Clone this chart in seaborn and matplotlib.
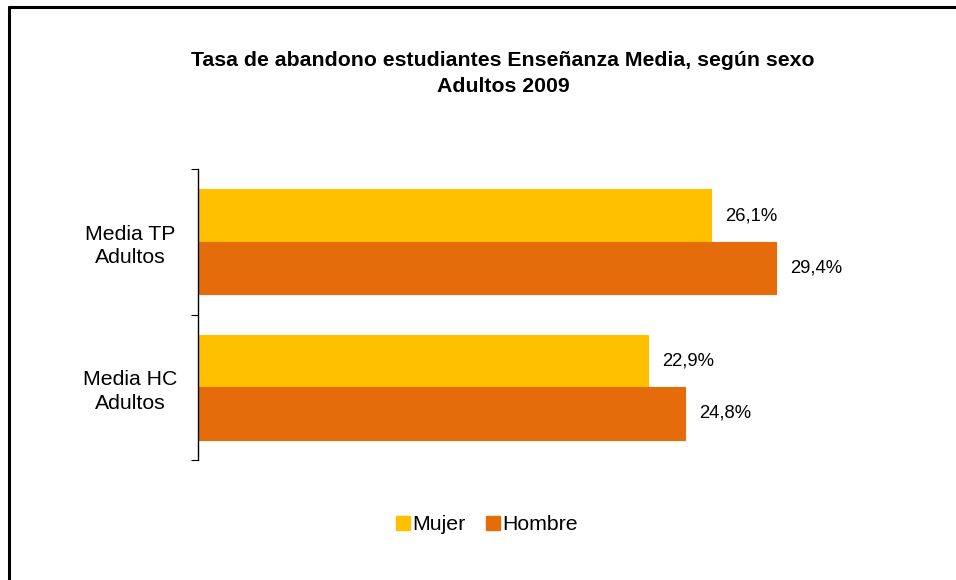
import matplotlib
matplotlib.use("Agg")
import matplotlib.pyplot as plt
from matplotlib.lines import Line2D
from matplotlib.patches import Patch
import seaborn as sns
import pandas as pd

categories = ["Media TP\nAdultos", "Media HC\nAdultos"]
series = ["Mujer", "Hombre"]
mujer = [26.1, 22.9]
hombre = [29.4, 24.8]
colors = {"Mujer": "#FFC000", "Hombre": "#E46C0A"}

df = pd.DataFrame({
    "categoria": categories * 2,
    "sexo": ["Mujer"] * len(categories) + ["Hombre"] * len(categories),
    "valor": mujer + hombre,
})

sns.set_theme(style="white")
plt.rcParams["font.family"] = ["Liberation Sans", "DejaVu Sans"]

W, H = 956, 580
fig = plt.figure(figsize=(W / 100, H / 100), dpi=100)
ax = fig.add_axes([198 / W, 1 - 460 / H, (886 - 198) / W, (460 - 169) / H])

sns.barplot(data=df, x="valor", y="categoria", hue="sexo", order=categories,
            hue_order=series, palette=colors, width=0.72, orient="h",
            saturation=1, ax=ax, legend=False, errorbar=None)

for cont, s in zip(ax.containers, series):
    for bar in cont:
        bar.set_edgecolor(colors[s])
        bar.set_linewidth(0.8)
    ax.bar_label(cont, labels=[f"{v:.1f}".replace(".", ",") + "%" for v in cont.datavalues],
                 padding=10, fontsize=13.3, color="black")

ax.set_xlim(0, 35)
ax.set_ylim(1.5, -0.5)
ax.set_xlabel("")
ax.set_ylabel("")
ax.set_xticks([])
for s in ["top", "right", "bottom"]:
    ax.spines[s].set_visible(False)
ax.spines["left"].set_color("black")
ax.spines["left"].set_linewidth(1.0)

ax.set_yticks([0, 1])
ax.set_yticklabels(categories, fontsize=15.3, ha="center", multialignment="center",
                   color="black")
for t in ax.get_yticklabels():
    t.set_linespacing(1.3)
ax.tick_params(axis="y", which="major", length=0, pad=49)
ax.set_yticks([-0.5, 0.5, 1.5], minor=True)
ax.tick_params(axis="y", which="minor", length=5, width=0.8, color="black", left=True)

fig.text(503 / W, 1 - 61 / H, "Tasa de abandono estudiantes Enseñanza Media, según sexo",
         ha="center", va="center", fontsize=15.3, fontweight="bold", color="black")
fig.text(503 / W, 1 - 87 / H, "Adultos 2009",
         ha="center", va="center", fontsize=15.3, fontweight="bold", color="black")

handles = [Patch(facecolor=colors[s], edgecolor=colors[s], label=s) for s in series]
fig.legend(handles=handles, loc="center", bbox_to_anchor=(487 / W, 1 - 525 / H),
           ncol=2, frameon=False, fontsize=15.3, handlelength=0.65, handleheight=0.65,
           handletextpad=0.1, columnspacing=1.0, labelcolor="black")

# outer frame (left and top edges)
fig.add_artist(Line2D([9 / W, 9 / W], [1 - 7 / H, -0.01], transform=fig.transFigure,
                      color="black", linewidth=2.2))
fig.add_artist(Line2D([9 / W, 1.01], [1 - 7 / H, 1 - 7 / H], transform=fig.transFigure,
                      color="black", linewidth=2.2))

fig.savefig("out.png", dpi=100, facecolor="white")
